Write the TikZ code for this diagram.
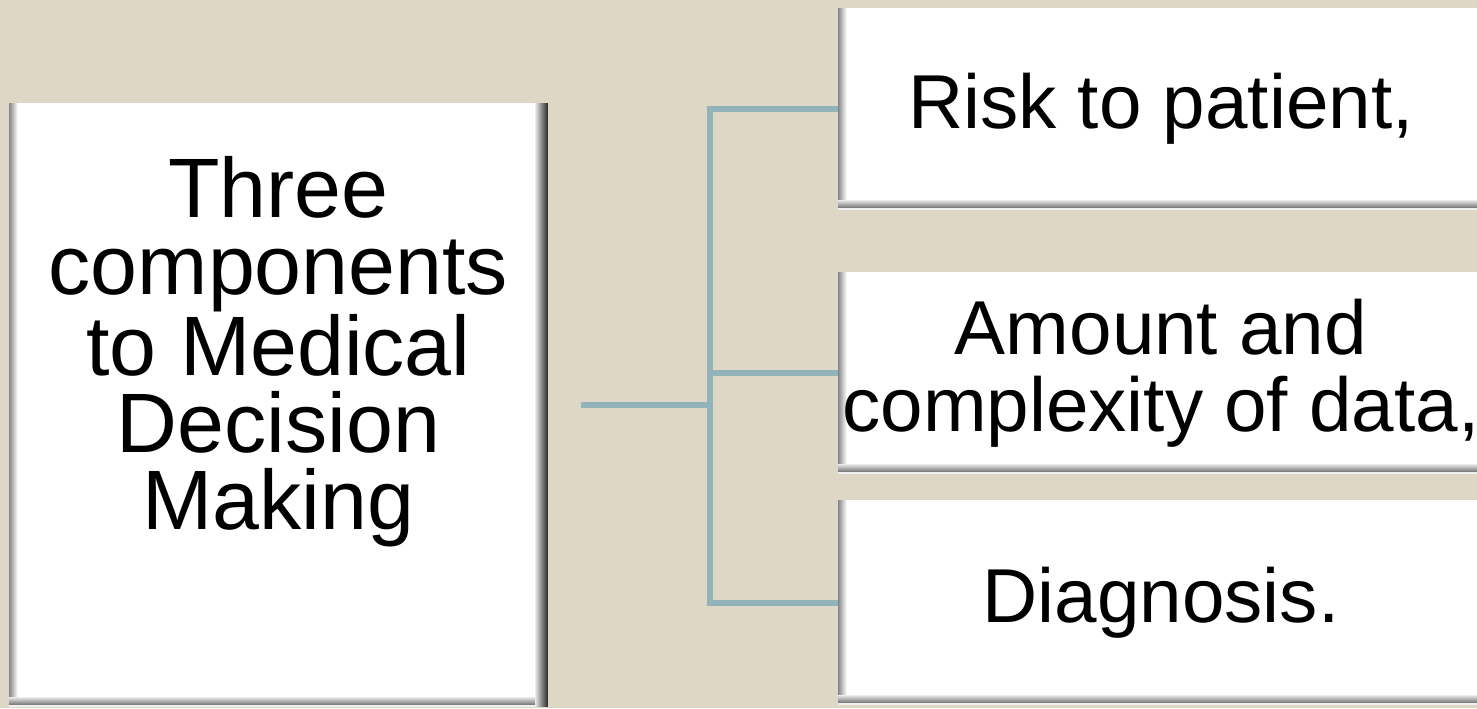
\documentclass[tikz,border=0pt]{standalone}
\usepackage{fontspec}
\setmainfont{Liberation Sans}
\definecolor{slidebg}{RGB}{222,215,198}
\definecolor{linkblue}{RGB}{147,179,186}
\tikzset{
  panel/.style={fill=white, inner sep=0pt, outer sep=0pt, align=center,
    font=\fontsize{43.5}{44}\selectfont,
    path picture={
      \coordinate (sw) at (path picture bounding box.south west);
      \coordinate (nw) at (path picture bounding box.north west);
      \coordinate (se) at (path picture bounding box.south east);
      \coordinate (ne) at (path picture bounding box.north east);
      % bevel, left side
      \foreach \i in {0,...,8}{
        \pgfmathtruncatemacro{\g}{48-5.5*\i}
        \fill[black!\g] ([xshift=\i*0.02cm]sw) rectangle ([xshift=\i*0.02cm+0.021cm]nw);
      }
      % bevel, bottom
      \fill[black!6] (sw) rectangle ([yshift=0.04cm]se);
      \foreach \i in {0,...,7}{
        \pgfmathtruncatemacro{\g}{50-6*\i}
        \fill[black!\g] ([yshift=0.04cm+\i*0.02cm]sw) rectangle ([yshift=0.061cm+\i*0.02cm]se);
      }
      % bevel, right side
      \ifx\panelright\relax\else
      \foreach \i in {0,...,12}{
        \pgfmathtruncatemacro{\g}{80-6*\i}
        \fill[black!\g] ([xshift=-\i*0.02cm]se) rectangle ([xshift=-\i*0.02cm-0.021cm]ne);
      }
      \fi
    }},
  rightbox/.style={panel, anchor=west, minimum width=12.92cm, minimum height=4.04cm}
}
\tikzset{link/.style={draw=linkblue, line width=0.12cm}}
\let\panelright\relax
\begin{document}
\begin{tikzpicture}[x=0.02cm, y=-0.02cm]
	\useasboundingbox (0,0) rectangle (1477,708);
	\fill[slidebg] (0,0) rectangle (1477,708);
	% left box
	{\def\panelright{1}
	\node[panel, minimum width=10.78cm, minimum height=12.08cm] (decision) at (278.5,405) {};}
	\node[align=center, font=\fontsize{48}{44}\selectfont] (decisiontext) at (278.5,352) {Three\\components\\to Medical\\Decision\\Making};
	% right boxes
	\node[rightbox] (risk) at (838,109) {Risk to patient,};
	\node[rightbox] (data) at (838,373) {Amount and\\complexity of data,};
	\node[rightbox, minimum height=4.1cm] (diagnosis) at (838,602.5) {Diagnosis.};
	% connectors
	\coordinate (hub) at (710,405);
	\draw[link, shorten <=0.66cm] (decision.east) -- (hub);
	\draw[link] (hub) |- (risk.west);
	\draw[link] (hub) |- (data.west);
	\draw[link] (hub) |- (diagnosis.west);
\end{tikzpicture}
\end{document}
